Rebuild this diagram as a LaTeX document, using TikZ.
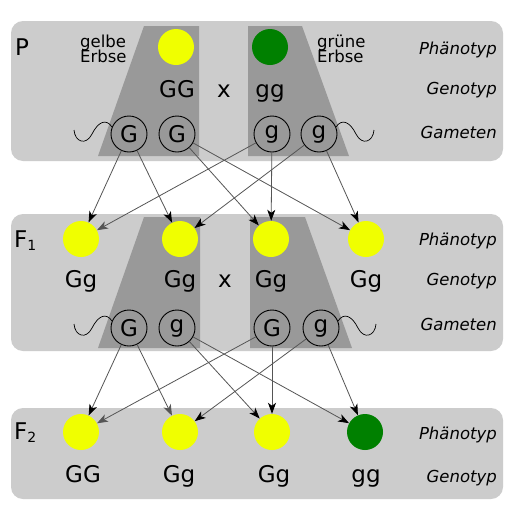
\documentclass[tikz,border=0pt]{standalone}
\usepackage{fontspec}
\setmainfont{DejaVu Sans}
\usetikzlibrary{arrows.meta}
\definecolor{panel}{HTML}{CCCCCC}
\definecolor{trap}{HTML}{999999}
\definecolor{pea}{HTML}{F0FF00}
\definecolor{peagreen}{HTML}{008000}
\definecolor{linec}{HTML}{555555}
\newcommand\tightlines{\lineskiplimit -20pt\relax}
\begin{document}
\begin{tikzpicture}[x=1pt,y=-1pt,
  panelbox/.style={fill=panel, rounded corners=12pt},
  trapbox/.style={fill=trap},
  yel/.style={circle, fill=pea, minimum size=36pt, inner sep=0pt},
  grn/.style={circle, fill=peagreen, minimum size=36pt, inner sep=0pt},
  gam/.style={circle, draw=black, line width=0.9pt, fill=trap, minimum size=36pt, inner sep=0pt, font=\fontsize{23}{23}\selectfont},
  big/.style={anchor=base, inner sep=0pt, font=\fontsize{23}{23}\selectfont},
  gen/.style={anchor=base west, inner sep=0pt, font=\fontsize{23}{23}\selectfont},
  lab/.style={anchor=base east, inner sep=0pt, font=\fontsize{16.5}{16.5}\selectfont\itshape},
  pealab/.style={anchor=north west, inner sep=0pt, align=left, font=\fontsize{16.5}{15}\selectfont\tightlines},
  wave/.style={draw=black, line width=0.7pt},
  arr/.style={draw=linec, line width=0.8pt, -{Stealth[length=11pt, width=8pt, inset=3pt, color=black]}},
  arrg/.style={draw=linec, line width=0.8pt, -{Stealth[length=11pt, width=8pt, inset=3pt, color=linec]}}
]
\useasboundingbox[fill=white] (0,0) rectangle (512,512);

% ---------- P ----------
\fill[panelbox] (11,21) rectangle (503,161);
\fill[trapbox] (144,26) -- (199,26) -- (199,156) -- (98,156) -- cycle;
\fill[trapbox] (248,26) -- (302,26) -- (349,156) -- (248,156) -- cycle;
\node[gen] (lp) at (15,55) {P};
\node[pealab] (tyel) at (80,34.5) {gelbe\\Erbse};
\node[pealab] (tgrn) at (317,34.5) {grüne\\Erbse};
\node[yel] (py) at (176,47) {};
\node[grn] (pgr) at (270,47) {};
\node[big] (pgt1) at (177,97) {GG};
\node[big] (px) at (224,97) {x};
\node[big] (pgt2) at (270,97) {gg};
\node[gam] (pa) at (129,134) {G};
\node[gam] (pb) at (177,134) {G};
\node[gam] (pc) at (272,134) {g};
\node[gam] (pd) at (319,134) {g};
\node[lab] (pl1) at (497,54) {Phänotyp};
\node[lab] (pl2) at (497,94) {Genotyp};
\node[lab] (pl3) at (497,138) {Gameten};
\draw[wave] (74,130) .. controls (75,142) and (86,146) .. (92,134) .. controls (98,122) and (106,118) .. (112,127);
\draw[wave] (374,130) .. controls (373,142) and (362,146) .. (356,134) .. controls (350,122) and (342,118) .. (336,127);

% ---------- F1 ----------
\fill[panelbox] (11,214) rectangle (503,351);
\fill[trapbox] (144,217) -- (200,217) -- (200,348) -- (98,348) -- cycle;
\fill[trapbox] (250,217) -- (305,217) -- (352,348) -- (250,348) -- cycle;
\node[gen] (lf1) at (14,247) {F\raisebox{-3.5pt}{\fontsize{14}{14}\selectfont 1}};
\node[yel] (qa) at (81,239) {};
\node[yel] (qb) at (180,239) {};
\node[yel] (qc) at (271,239) {};
\node[yel] (qd) at (366,239) {};
\node[big] (qt1) at (81,287) {Gg};
\node[big] (qt2) at (180,287) {Gg};
\node[big] (qx) at (225,287) {x};
\node[big] (qt3) at (271,287) {Gg};
\node[big] (qt4) at (366,287) {Gg};
\node[gam] (ra) at (129,328) {G};
\node[gam] (rb) at (177,328) {g};
\node[gam] (rc) at (272,328) {G};
\node[gam] (rd) at (321,328) {g};
\node[lab] (ql1) at (497,245) {Phänotyp};
\node[lab] (ql2) at (497,285) {Genotyp};
\node[lab] (ql3) at (497,330) {Gameten};
\draw[wave] (74,324) .. controls (75,336) and (86,340) .. (92,328) .. controls (98,316) and (106,312) .. (112,321);
\draw[wave] (376,324) .. controls (375,336) and (364,340) .. (358,328) .. controls (352,316) and (344,312) .. (338,321);

% ---------- F2 ----------
\fill[panelbox] (11,408) rectangle (503,499);
\node[gen] (lf2) at (14,439) {F\raisebox{-3.5pt}{\fontsize{14}{14}\selectfont 2}};
\node[yel] (sa) at (81,432) {};
\node[yel] (sb) at (180,432) {};
\node[yel] (sc) at (272,432) {};
\node[grn] (sd) at (365,432) {};
\node[big] (st1) at (83,482) {GG};
\node[big] (st2) at (179,482) {Gg};
\node[big] (st3) at (274,482) {Gg};
\node[big] (st4) at (366,482) {gg};
\node[lab] (sl1) at (497,439) {Phänotyp};
\node[lab] (sl2) at (497,482) {Genotyp};

% ---------- arrows ----------
\draw[arr] (pa) -- (qa);
\draw[arr] (pa) -- (qb);
\draw[arr] (pb) -- (qc);
\draw[arr] (pb) -- (qd);
\draw[arrg] (pc) -- (qa);
\draw[arr] (pc) -- (qc);
\draw[arr] (pd) -- (qb);
\draw[arr] (pd) -- (qd);

\draw[arr] (ra) -- (sa);
\draw[arrg] (ra) -- (sb);
\draw[arr] (rb) -- (sc);
\draw[arr] (rb) -- (sd);
\draw[arrg] (rc) -- (sa);
\draw[arr] (rc) -- (sc);
\draw[arr] (rd) -- (sb);
\draw[arr] (rd) -- (sd);
\end{tikzpicture}
\end{document}
